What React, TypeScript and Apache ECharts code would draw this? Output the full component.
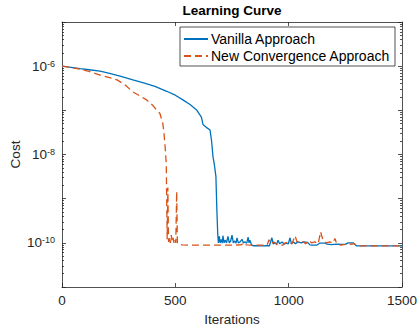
import React, { useEffect, useRef } from "react";
import * as echarts from "echarts";

const title = "Learning Curve";
const xName = "Iterations";
const yName = "Cost";
const seriesNames = ["Vanilla Approach", "New Convergence Approach"];
const xTicks = [0, 500, 1000, 1500];
const yLabelExponents = [-10, -8, -6];
const yMinorMultipliers = [2, 3, 4, 5, 6, 7, 8, 9];
const yDecades = [-11, -10, -9, -8, -7, -6];

const vanillaIter = [
  0, 40, 80, 120, 168, 210, 260, 313, 360, 410, 462, 500, 535, 565, 595, 615, 622, 640, 653, 660, 666, 672, 679, 683, 687,
  690, 694, 698, 703, 707, 710, 715, 720, 726, 732, 738, 744, 750, 756, 762, 768, 772, 778, 786, 794, 800, 808, 815, 821,
  825, 829, 836, 843, 860, 880, 900, 915, 926, 932, 940, 947, 953, 960, 971, 980, 990, 998, 1006, 1012, 1020, 1030, 1041,
  1055, 1070, 1085, 1094, 1105, 1125, 1138, 1160, 1169, 1190, 1213, 1235, 1250, 1262, 1284, 1300, 1350, 1400, 1450, 1500,
];
const vanillaCost = [
  1.0e-6, 9.4e-7, 8.8e-7, 8.3e-7, 7.7e-7, 6.9e-7, 5.9e-7, 4.9e-7, 4.2e-7, 3.5e-7, 2.7e-7, 2.2e-7, 1.7e-7, 1.35e-7, 1.0e-7,
  7.0e-8, 4.8e-8, 4.0e-8, 3.6e-8, 2.0e-8, 9.0e-9, 6.0e-9, 3.2e-9, 6.0e-10, 1.6e-10,
  1.0e-10, 1.4e-10, 1.0e-10, 1.2e-10, 9.8e-11, 1.45e-10, 1.0e-10, 1.15e-10, 1.0e-10, 1.4e-10, 1.0e-10, 1.1e-10, 1.5e-10,
  1.0e-10, 1.1e-10, 9.8e-11, 1.3e-10, 1.0e-10, 1.05e-10, 1.2e-10, 1.0e-10, 1.05e-10, 9.8e-11, 1.35e-10,
  1.0e-10, 1.15e-10, 9.0e-11, 8.6e-11, 8.6e-11, 8.5e-11, 8.6e-11, 8.6e-11, 1.3e-10, 9.5e-11, 1.0e-10, 9.3e-11, 1.15e-10,
  9.5e-11, 1.05e-10, 9.3e-11, 9.8e-11, 9.4e-11, 1.3e-10, 9.5e-11, 1.05e-10, 9.6e-11, 1.05e-10,
  1.0e-10, 1.05e-10, 1.0e-10, 9.0e-11, 8.9e-11, 8.9e-11, 9.9e-11, 9.9e-11, 9.3e-11, 9.1e-11, 9.3e-11, 9.2e-11, 9.2e-11,
  1.0e-10, 1.0e-10, 8.5e-11, 8.5e-11, 8.5e-11, 8.5e-11, 8.5e-11,
];

const newIter = [
  0, 40, 80, 120, 168, 210, 243, 280, 313, 345, 375, 400, 419, 432, 445, 450, 455, 460, 464, 467, 470, 474, 478, 482, 486,
  490, 494, 498, 502, 506, 509, 515, 530, 560, 600, 640, 680, 720, 760, 790, 804, 812, 840, 870, 905, 913, 920, 935, 950,
  975, 985, 1000, 1015, 1028, 1037, 1045, 1060, 1075, 1090, 1100, 1116, 1130, 1141, 1147, 1155, 1165, 1180, 1195, 1204,
  1212, 1230, 1250, 1262, 1275, 1290, 1300, 1350, 1400, 1450, 1500,
];
const newCost = [
  1.0e-6, 9.3e-7, 8.5e-7, 7.6e-7, 6.3e-7, 5.5e-7, 4.9e-7, 3.7e-7, 2.6e-7, 2.1e-7, 1.7e-7, 1.3e-7, 1.0e-7, 8.5e-8, 5.0e-8,
  3.0e-8, 1.5e-8, 6.0e-9, 1.2e-10, 1.8e-9, 1.05e-10, 1.4e-10, 1.0e-10, 1.5e-10, 1.05e-10,
  1.3e-10, 1.0e-10, 1.2e-10, 1.0e-10, 1.45e-9, 1.0e-10, 9.2e-11, 9.0e-11, 8.9e-11, 8.9e-11, 8.9e-11, 8.9e-11, 8.9e-11,
  8.9e-11, 9.0e-11, 1.0e-10, 9.0e-11, 8.9e-11, 8.9e-11, 8.9e-11, 1.17e-10, 9.5e-11, 1.05e-10, 8.9e-11,
  8.9e-11, 1.0e-10, 1.05e-10, 9.5e-11, 1.45e-10, 1.05e-10, 1.05e-10, 1.1e-10, 9.5e-11, 1.15e-10, 1.0e-10, 1.05e-10,
  9.5e-11, 1.78e-10, 1.35e-10, 1.1e-10, 1.0e-10, 1.05e-10, 9.8e-11, 1.26e-10,
  9.5e-11, 8.9e-11, 9.2e-11, 9.8e-11, 9.2e-11, 9.6e-11, 8.5e-11, 8.5e-11, 8.5e-11, 8.5e-11, 8.5e-11,
];

const FONT = "'Liberation Sans', Arial, Helvetica, sans-serif";
const INK = "#262626";
const BLUE = "#0072BD";
const ORANGE = "#D95319";

const pairs = (xs: number[], ys: number[]) => xs.map((x, i) => [x, ys[i]]);
const minorLogPositions = yDecades.flatMap((d) => yMinorMultipliers.map((m) => d + Math.log10(m)));

export default function App() {
  const ref = useRef<HTMLDivElement>(null);
  useEffect(() => {
    if (!ref.current) return;
    const chart = echarts.init(ref.current, null, { renderer: "svg" });
    const axisLine = { show: true, lineStyle: { color: INK, width: 0.8 } };
    const majorTick = { show: true, inside: true, length: 4, lineStyle: { color: INK, width: 0.8 } };
    const minorTickAxis = (position: "left" | "right") => ({
      type: "value" as const,
      position,
      min: -11,
      max: -5,
      axisLine: { show: false },
      splitLine: { show: false },
      axisLabel: { show: false },
      axisTick: { show: true, inside: true, length: 2, customValues: minorLogPositions, lineStyle: { color: INK, width: 0.8 } },
    });
    chart.setOption({
      animation: false,
      backgroundColor: "#ffffff",
      title: {
        text: title,
        left: 232,
        textAlign: "center",
        top: 3,
        padding: 0,
        textStyle: { fontFamily: FONT, fontSize: 13.5, fontWeight: "bold", color: "#000" },
      },
      legend: {
        data: seriesNames,
        orient: "vertical",
        left: 180,
        top: 27,
        padding: [5, 5, 3, 3],
        itemGap: 3,
        itemWidth: 24,
        itemHeight: 14,
        borderColor: INK,
        borderWidth: 0.8,
        backgroundColor: "#fff",
        borderRadius: 0,
        itemStyle: { opacity: 0, borderWidth: 0 },
        textStyle: { fontFamily: FONT, fontSize: 14, color: "#000", padding: [0, 0, 0, -2] },
      },
      grid: { left: 62, right: 15, top: 22, bottom: 42, containLabel: false, outerBoundsMode: "none" },
      xAxis: [
        {
          type: "value",
          min: 0,
          max: 1500,
          interval: 500,
          name: xName,
          nameLocation: "middle",
          nameGap: 25,
          nameMoveOverlap: false,
          nameTextStyle: { fontFamily: FONT, fontSize: 13.5, color: INK },
          axisLine,
          axisTick: majorTick,
          splitLine: { show: false },
          axisLabel: {
            fontFamily: FONT,
            fontSize: 13.5,
            color: INK,
            margin: 6,
            customValues: xTicks,
            formatter: (v: number) => String(v),
          },
        },
        {
          type: "value",
          position: "top",
          min: 0,
          max: 1500,
          interval: 500,
          axisLine,
          axisTick: majorTick,
          splitLine: { show: false },
          axisLabel: { show: false },
        },
      ],
      yAxis: [
        {
          type: "log",
          logBase: 10,
          min: 1e-11,
          max: 1e-5,
          position: "left",
          name: yName,
          nameLocation: "middle",
          nameGap: 40,
          nameMoveOverlap: false,
          nameTextStyle: { fontFamily: FONT, fontSize: 13.5, color: INK },
          axisLine,
          axisTick: majorTick,
          splitLine: { show: false },
          minorTick: { show: false },
          axisLabel: {
            margin: 7,
            color: INK,
            fontFamily: FONT,
            formatter: (v: number) => {
              const e = Math.round(Math.log10(v));
              if (!yLabelExponents.includes(e)) return "";
              return `{b|10}{s|${e}}`;
            },
            rich: {
              b: { fontFamily: FONT, fontSize: 13.5, color: INK, lineHeight: 14, verticalAlign: "bottom" },
              s: { fontFamily: FONT, fontSize: 9, color: INK, lineHeight: 10, verticalAlign: "top", padding: [0, 0, 13, 0] },
            },
          },
        },
        minorTickAxis("left"),
        {
          type: "log",
          logBase: 10,
          min: 1e-11,
          max: 1e-5,
          position: "right",
          axisLine,
          axisTick: majorTick,
          splitLine: { show: false },
          axisLabel: { show: false },
        },
        minorTickAxis("right"),
      ],
      series: [
        {
          name: seriesNames[0],
          type: "line",
          data: pairs(vanillaIter, vanillaCost),
          xAxisIndex: 0,
          yAxisIndex: 0,
          showSymbol: false,
          symbol: "none",
          color: BLUE,
          lineStyle: { color: BLUE, width: 1.3 },
        },
        {
          name: seriesNames[1],
          type: "line",
          data: pairs(newIter, newCost),
          xAxisIndex: 0,
          yAxisIndex: 0,
          showSymbol: false,
          symbol: "none",
          color: ORANGE,
          lineStyle: { color: ORANGE, width: 1.3, type: [7, 4] },
        },
      ],
    });
    return () => chart.dispose();
  }, []);
  return (
    <div
      ref={ref}
      style={{ position: "absolute", left: 0, top: 0, width: 417, height: 329, background: "#fff" }}
    />
  );
}
